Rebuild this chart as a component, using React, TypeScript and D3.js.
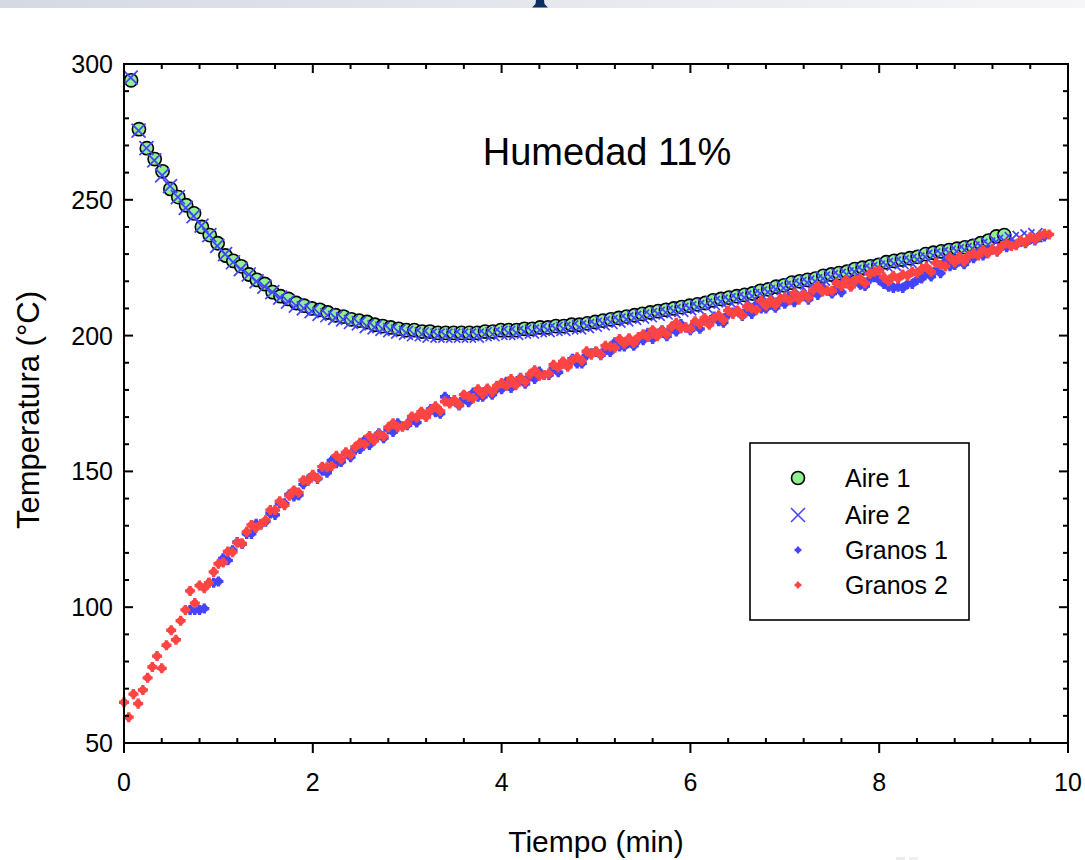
import React from "react";
import * as d3 from "d3";

// ---- data ----
const aireStep = 5 / 60; // minutes between air readings (5 s)
const aire1: number[] = [
  294, 276, 269, 265, 260.5, 254, 251, 248, 245, 240,
  237, 234, 229.5, 227.5, 225.5, 222.5, 220.5, 219, 216, 214.5,
  213.5, 212, 211, 210, 209.5, 208.5, 207.5, 207, 206, 205.5,
  205, 204, 203.5, 203, 202.5, 202, 202, 201.5, 201.5, 201,
  201, 201, 201, 201, 201, 201.5, 201.5, 202, 202, 202,
  202.5, 202.5, 203, 203, 203.5, 203.5, 204, 204, 204.5, 205,
  205.5, 206, 206.5, 207, 207.5, 208, 208.5, 209, 209.5, 210,
  210.5, 211, 211.5, 212, 213, 213.5, 214, 214.5, 215, 215.5,
  216.5, 217, 218, 218.5, 219.5, 220, 220.5, 221, 222, 222.5,
  223, 223.5, 224.5, 225, 225.5, 226, 227, 227.5, 228, 228.5,
  229, 230, 230.5, 231, 231.5, 232, 232.5, 233, 234, 235,
  236.5, 237,
];
const aire2: number[] = [
  295, 275.5, 269, 264.5, 259, 255, 251, 247, 244, 240.5,
  237, 233, 230, 227, 224.5, 222.5, 220, 218, 216, 214,
  212.5, 211, 210, 209, 208, 207.5, 206.5, 206, 205, 204.5,
  203.5, 203, 202.5, 202, 201.5, 201, 200.5, 200.5, 200, 200,
  200, 200, 200, 200, 200, 200.5, 200.5, 201, 201, 201,
  201.5, 201.5, 202, 202, 202.5, 202.5, 203, 203, 203.5, 204,
  204.5, 205, 205.5, 206, 206.5, 207, 207.5, 208, 208.5, 209,
  209.5, 210, 210.5, 211, 212, 212.5, 213, 213.5, 214, 214.5,
  215.5, 216, 217, 217.5, 218.5, 219, 219.5, 220, 221, 221.5,
  222, 222.5, 223.5, 224, 224.5, 225, 226, 226.5, 227, 227.5,
  228, 229, 229.5, 230, 230.5, 231, 231.5, 232, 233, 233.5,
  234.5, 235, 235.5, 236, 236.5, 237,
];

const granosStep = 0.05; // minutes between grain readings
const granos1Start = 0.7;
const granos1: number[] = [
  99, 99, 99, 99.5, 109, 109,
  109.5, 118, 117.25, 121, 124, 123.25, 127, 127, 130.75, 130.5,
  131.5, 134.5, 134, 138.25, 138.25, 141.5, 140.75, 141.25, 145.25, 147,
  148.5, 147.25, 150.25, 149.5, 154, 153, 153.5, 156.75, 155.25, 158,
  158.25, 161.5, 159.75, 162, 164, 162.25, 165.5, 164.5, 167.75, 166.5,
  167, 169, 168, 171.25, 170.75, 173, 171.75, 171.25, 177.5, 175.5,
  176, 174.25, 176.75, 175.5, 179, 177.5, 177.5, 180.25, 178.25, 180.5,
  180.25, 183, 180.75, 182.5, 184.5, 182.25, 185, 184, 186.75, 185.5,
  185.5, 188, 186.5, 189.75, 189.25, 191.5, 189.75, 189.75, 192.75, 193.5,
  194, 192.75, 194.75, 194, 197.5, 196, 196, 198.75, 196.25, 198.5,
  198.25, 201, 198.75, 200.5, 202, 199.75, 202.5, 201.5, 204.25, 203,
  202, 204, 202.5, 205.75, 204.75, 207, 205.25, 204.75, 207.75, 208.5,
  209, 207.25, 209.25, 208, 211.5, 210, 210, 212.75, 210.25, 212.5,
  211.75, 214.5, 212.25, 214, 215.5, 213.25, 216, 215, 217.75, 216.5,
  215.5, 217.5, 216, 219.25, 218.25, 220.5, 218.75, 218.25, 220.75, 221.5,
  220.5, 219, 218, 217.5, 218, 217.5, 219, 219, 220.5, 221,
  223, 221.75, 224.25, 223, 227, 225.5, 226, 228.75, 226.25, 228.5,
  228.5, 230.5, 229.5, 231, 231.75, 231, 233, 232.5, 234.25, 233.5,
  234.5, 234, 235.5, 235, 236.25, 236.5,
];
const granos2Start = 0;
const granos2: number[] = [
  65, 59.5, 68, 64.5, 69.5, 74, 78, 82, 77.5, 86,
  91.5, 88, 95, 99, 106, 101.5, 108, 107, 109, 113,
  116, 116.5, 120.5, 120.25, 123.75, 123.5, 127.75, 130.25, 129.25, 130.5,
  132, 135.75, 135.75, 139, 137.5, 141, 143, 142.25, 146.75, 146.5,
  148.75, 147.5, 151.75, 151.5, 152, 155.75, 154.5, 157, 156.25, 159,
  160.5, 160, 163, 161.25, 163.75, 163, 166.25, 167.75, 166.25, 166.5,
  167.5, 170.25, 169.75, 172, 170, 172.5, 174, 172.25, 175.75, 175,
  176.25, 174.5, 178.25, 177.5, 177, 180.25, 178.5, 180.5, 179.25, 181.5,
  182.5, 181.5, 184, 181.75, 184.25, 183, 185.75, 187.25, 185.25, 185.5,
  186, 189.25, 188.25, 190.5, 188.5, 191, 192, 190.75, 194.25, 193,
  194.25, 193, 196.25, 196, 195.5, 198.75, 197, 199, 197.25, 199.5,
  200.5, 199.5, 202, 199.75, 201.75, 200.5, 203.25, 204.75, 202.75, 203,
  202.5, 205.25, 204.25, 206.5, 204, 206.5, 207.5, 205.75, 209.25, 208,
  209.25, 207.5, 210.75, 210, 209.5, 212.75, 211, 213, 211.25, 213.5,
  214, 213, 215.5, 213.25, 215.25, 214, 216.75, 218.25, 216.25, 216.5,
  216.5, 219.25, 218.25, 220.5, 218, 220.5, 221, 219.25, 222.75, 223.5,
  224, 221.5, 220, 222, 221, 222.5, 222, 223.5, 223, 224.5,
  225.25, 223.5, 226.75, 226, 225.5, 228.75, 227, 229, 227.25, 229.5,
  230.25, 229.5, 231.5, 230.25, 231.75, 231, 233, 234, 233, 233.25,
  235, 234.25, 236.25, 235.5, 236.75, 237.5, 237.25,
];

const xMajorTicks = [0, 2, 4, 6, 8, 10];
const yMajorTicks = [50, 100, 150, 200, 250, 300];
const legendLabels = ["Aire 1", "Aire 2", "Granos 1", "Granos 2"];
const titleText = "Humedad 11%";
const xTitle = "Tiempo (min)";
const yTitle = "Temperatura (°C)";

// ---- styles ----
const FONT = "'Liberation Sans', Arial, sans-serif";
const GREEN = "#8ef08e";
const BLUE = "#4444ff";
const RED = "#ff4444";

const W = 1085;
const H = 860;

export default function App() {
  const x = d3.scaleLinear().domain([0, 10]).range([124, 1068]);
  const y = d3.scaleLinear().domain([50, 300]).range([743, 64]);
  const [xl, xr] = x.range();
  const [yb, yt] = y.range();

  const xMinor = d3
    .range(0, 26)
    .map((i) => i * 0.4)
    .filter((v) => v <= 10.001 && Math.abs(v / 2 - Math.round(v / 2)) > 0.01);
  const yMinor = d3.range(50, 301, 10).filter((v) => v % 50 !== 0);

  const a1 = aire1.map((v, i) => ({ t: (i + 0.9) * aireStep, v }));
  const a2 = aire2.map((v, i) => ({ t: (i + 0.85) * aireStep, v }));
  const g1 = granos1.map((v, i) => ({ t: granos1Start + i * granosStep, v }));
  const g2 = granos2.map((v, i) => ({ t: granos2Start + i * granosStep, v }));

  const crossPath = d3.symbol(d3.symbolCross, 56)() as string;
  const legCrossPath = d3.symbol(d3.symbolCross, 26)() as string;

  const cross = (cx: number, cy: number, s: number) =>
    `M${cx - s},${cy - s}L${cx + s},${cy + s}M${cx - s},${cy + s}L${cx + s},${cy - s}`;

  const grainMark = (key: string, cx: number, cy: number, color: string) => (
    <g key={key} transform={`translate(${cx},${cy})`}>
      <path d={crossPath} fill={color} />
      <circle r={3.8} fill={color} />
    </g>
  );

  const legX = 798;
  const legTextX = 845;
  const legRows = [478, 515, 550, 585];

  return (
    <svg
      width={W}
      height={H}
      style={{ position: "absolute", left: 0, top: 0, background: "#fff" }}
      fontFamily={FONT}
    >
      <defs>
        <linearGradient id="topband" x1="0" x2="1" y1="0" y2="0">
          <stop offset="0" stopColor="#d5d9e3" />
          <stop offset="1" stopColor="#f6f6f8" />
        </linearGradient>
      </defs>
      <rect x={0} y={0} width={W} height={H} fill="#fff" />
      <rect x={0} y={0} width={W} height={8} fill="url(#topband)" />
      <path d="M536,0 L544,0 L544.5,4 L548,7.5 L532,7.5 L535.5,4 Z" fill="#0d2f63" />
      <rect x={896} y={857} width={9} height={3} fill="#ececec" />
      <rect x={909} y={857} width={9} height={3} fill="#efefef" />

      {/* title */}
      <text x={607} y={165} fontSize={38} textAnchor="middle" fill="#000">
        {titleText}
      </text>

      {/* Aire 1 circles */}
      <g>
        {a1.map((d, i) => (
          <circle key={"a1" + i} cx={x(d.t)} cy={y(d.v)} r={6.6} fill={GREEN} stroke="#000" strokeWidth={1.6} />
        ))}
      </g>
      {/* Aire 2 crosses */}
      <g stroke={BLUE} strokeWidth={1.7} fill="none">
        {a2.map((d, i) => (
          <path key={"a2" + i} d={cross(x(d.t), y(d.v), 7)} />
        ))}
      </g>
      {/* Granos 1 */}
      <g>{g1.map((d, i) => grainMark("g1" + i, x(d.t), y(d.v), BLUE))}</g>
      {/* Granos 2 */}
      <g>{g2.map((d, i) => grainMark("g2" + i, x(d.t), y(d.v), RED))}</g>

      {/* frame */}
      <rect x={xl} y={yt} width={xr - xl} height={yb - yt} fill="none" stroke="#000" strokeWidth={2} />

      {/* ticks */}
      <g stroke="#000" strokeWidth={2}>
        {xMajorTicks.map((t) => (
          <g key={"xm" + t}>
            <line x1={x(t)} x2={x(t)} y1={yb} y2={yb + 10} />
            <line x1={x(t)} x2={x(t)} y1={yt} y2={yt + 9} />
          </g>
        ))}
        {xMinor.map((t, i) => (
          <g key={"xn" + i}>
            <line x1={x(t)} x2={x(t)} y1={yb} y2={yb - 5} />
            <line x1={x(t)} x2={x(t)} y1={yt} y2={yt + 5} />
          </g>
        ))}
        {yMajorTicks.map((v) => (
          <g key={"ym" + v}>
            <line x1={xl} x2={xl + 9} y1={y(v)} y2={y(v)} />
            <line x1={xr} x2={xr - 9} y1={y(v)} y2={y(v)} />
          </g>
        ))}
        {yMinor.map((v) => (
          <g key={"yn" + v}>
            <line x1={xl} x2={xl + 5} y1={y(v)} y2={y(v)} />
            <line x1={xr} x2={xr - 5} y1={y(v)} y2={y(v)} />
          </g>
        ))}
      </g>

      {/* tick labels */}
      <g fontSize={25} fill="#000">
        {xMajorTicks.map((t) => (
          <text key={"xl" + t} x={x(t)} y={791} textAnchor="middle">
            {t}
          </text>
        ))}
        {yMajorTicks.map((v) => (
          <text key={"yl" + v} x={113} y={y(v) + 9} textAnchor="end">
            {v}
          </text>
        ))}
      </g>

      {/* axis titles */}
      <text x={596} y={852} fontSize={30} textAnchor="middle" fill="#000">
        {xTitle}
      </text>
      <text transform="translate(39,410) rotate(-90)" fontSize={31} textAnchor="middle" fill="#000">
        {yTitle}
      </text>

      {/* legend */}
      <rect x={750} y={443} width={219} height={177} fill="#fff" stroke="#000" strokeWidth={1.6} />
      <circle cx={legX} cy={legRows[0]} r={6.5} fill={GREEN} stroke="#000" strokeWidth={1.6} />
      <path d={cross(legX, legRows[1], 7)} stroke={BLUE} strokeWidth={1.5} fill="none" />
      <g transform={`translate(${legX},${legRows[2]})`}>
        <path d={legCrossPath} fill={BLUE} />
        <circle r={2.5} fill={BLUE} />
      </g>
      <g transform={`translate(${legX},${legRows[3]})`}>
        <path d={legCrossPath} fill={RED} />
        <circle r={2.5} fill={RED} />
      </g>
      <g fontSize={25} fill="#000">
        {legendLabels.map((l, i) => (
          <text key={l} x={legTextX} y={legRows[i] + 9}>
            {l}
          </text>
        ))}
      </g>
    </svg>
  );
}
